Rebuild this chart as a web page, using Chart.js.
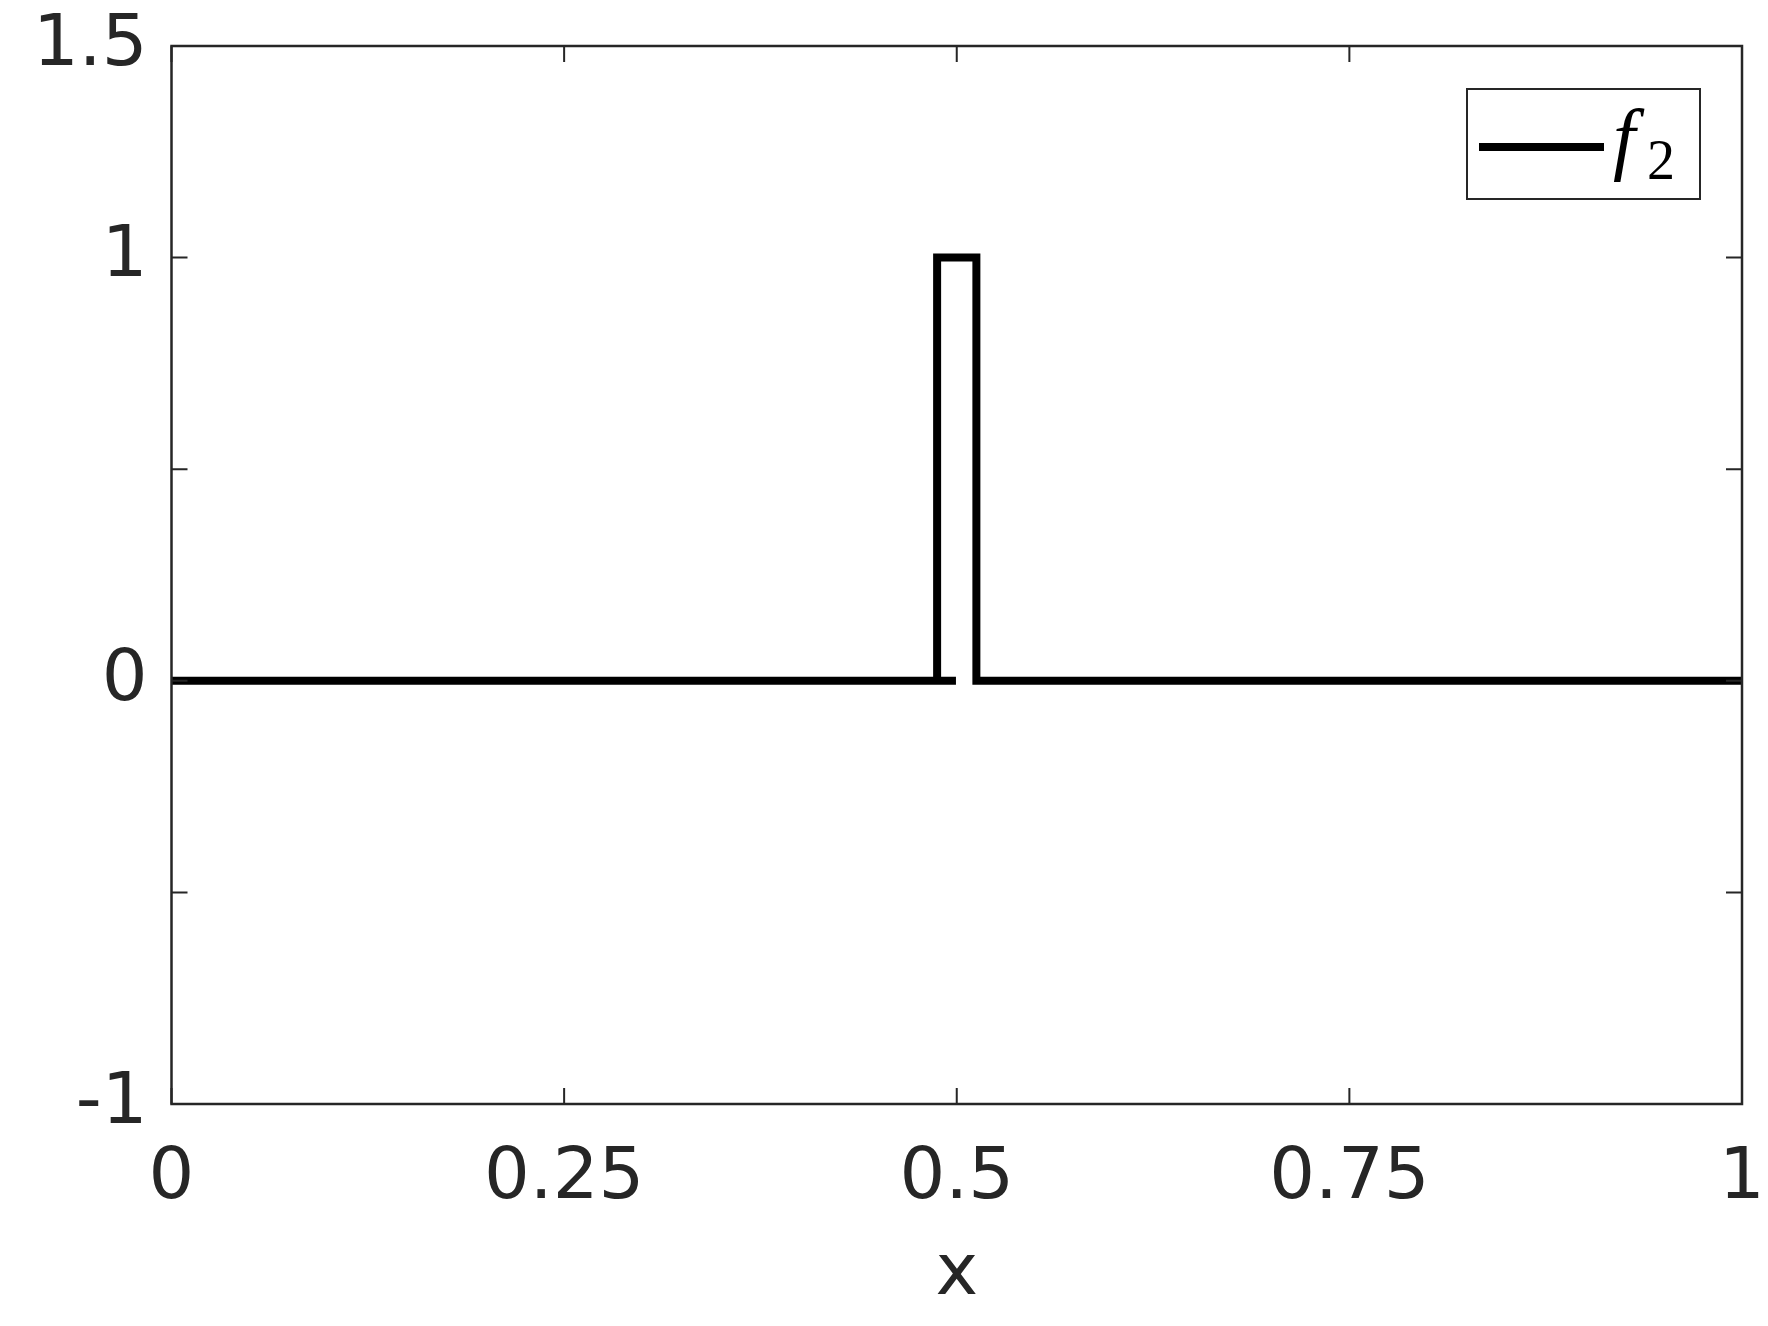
<!DOCTYPE html>
<html>
<head>
<meta charset="utf-8">
<script src="https://cdn.jsdelivr.net/npm/chart.js@4.4.0/dist/chart.umd.min.js"></script>
<style>
  body { margin: 0; background: #fff; }
  #wrap { width: 1768px; height: 1326px; }
</style>
</head>
<body>
<div id="wrap"><canvas id="f2Chart" width="1768" height="1326"></canvas></div>
<script>
// pulse f2 sampled at the break points (the short dash at 0 is part of the plotted line)
const xVals = [0, 0.4995, 0.4875, 0.4875, 0.5125, 0.5125, 1];
const yVals = [0, 0, 0, 1, 1, 0, 0];
const xTicks = [0, 0.25, 0.5, 0.75, 1];
const yTicks = [-1, -0.5, 0, 0.5, 1, 1.5];
const yLabels = ['-1', '', '0', '', '1', '1.5'];
const seriesName = 'f';
const seriesSub = '2';

const axisColor = '#262626';

// inward ticks, frame and legend box like the matlab figure
const framePlugin = {
  id: 'frame',
  afterDraw(chart) {
    const ctx = chart.ctx;
    const a = chart.chartArea;
    const xs = chart.scales.x, ys = chart.scales.y;
    ctx.save();
    ctx.strokeStyle = axisColor;
    ctx.lineWidth = 2.5;
    ctx.strokeRect(a.left, a.top, a.right - a.left, a.bottom - a.top);
    const tl = 16;
    ctx.lineWidth = 2;
    xTicks.forEach(v => {
      const px = xs.getPixelForValue(v);
      ctx.beginPath();
      ctx.moveTo(px, a.bottom); ctx.lineTo(px, a.bottom - tl);
      ctx.moveTo(px, a.top); ctx.lineTo(px, a.top + tl);
      ctx.stroke();
    });
    yTicks.forEach(v => {
      const py = ys.getPixelForValue(v);
      ctx.beginPath();
      ctx.moveTo(a.left, py); ctx.lineTo(a.left + tl, py);
      ctx.moveTo(a.right, py); ctx.lineTo(a.right - tl, py);
      ctx.stroke();
    });

    // legend
    const bx = 1467, by = 89, bw = 233, bh = 110;
    ctx.fillStyle = '#fff';
    ctx.fillRect(bx, by, bw, bh);
    ctx.lineWidth = 2;
    ctx.strokeStyle = axisColor;
    ctx.strokeRect(bx, by, bw, bh);
    ctx.strokeStyle = '#000';
    ctx.lineWidth = 8;
    ctx.beginPath();
    ctx.moveTo(bx + 12, by + 58); ctx.lineTo(bx + 137, by + 58);
    ctx.stroke();
    ctx.fillStyle = '#000';
    ctx.textBaseline = 'alphabetic';
    ctx.font = 'italic 80px "Liberation Serif", serif';
    ctx.fillText(seriesName, bx + 146, by + 76);
    ctx.font = '56px "Liberation Serif", serif';
    ctx.fillText(seriesSub, bx + 180, by + 90);
    ctx.restore();
  }
};

const ctx = document.getElementById('f2Chart').getContext('2d');
new Chart(ctx, {
  type: 'line',
  data: {
    datasets: [{
      label: 'f2',
      data: xVals.map((x, i) => ({ x: x, y: yVals[i] })),
      borderColor: '#000',
      borderWidth: 8,
      pointRadius: 0,
      tension: 0,
      fill: false
    }]
  },
  options: {
    responsive: false,
    animation: false,
    layout: { padding: { top: 46, right: 26, left: 0, bottom: 0 } },
    plugins: {
      legend: { display: false },
      tooltip: { enabled: false }
    },
    scales: {
      x: {
        type: 'linear',
        min: 0,
        max: 1,
        afterBuildTicks: s => { s.ticks = xTicks.map(v => ({ value: v })); },
        afterFit: s => { s.height = 222; s.paddingLeft = 0; s.paddingRight = 0; },
        grid: { display: false },
        border: { display: false },
        ticks: {
          color: axisColor,
          font: { family: 'DejaVu Sans', size: 72 },
          padding: 24,
          maxRotation: 0,
          autoSkip: false,
          callback: v => String(v)
        },
        title: {
          display: true,
          text: 'x',
          color: axisColor,
          font: { family: 'DejaVu Sans', size: 72 },
          padding: { top: 0, bottom: 8 }
        }
      },
      y: {
        type: 'linear',
        min: -1,
        max: 1.5,
        afterBuildTicks: s => { s.ticks = yTicks.map(v => ({ value: v })); },
        afterFit: s => { s.width = 171.5; s.paddingTop = 0; s.paddingBottom = 0; },
        grid: { display: false },
        border: { display: false },
        ticks: {
          color: axisColor,
          font: { family: 'DejaVu Sans', size: 72 },
          padding: 16,
          autoSkip: false,
          callback: (v, i) => yLabels[yTicks.indexOf(v)]
        }
      }
    }
  },
  plugins: [framePlugin]
});
</script>
</body>
</html>
